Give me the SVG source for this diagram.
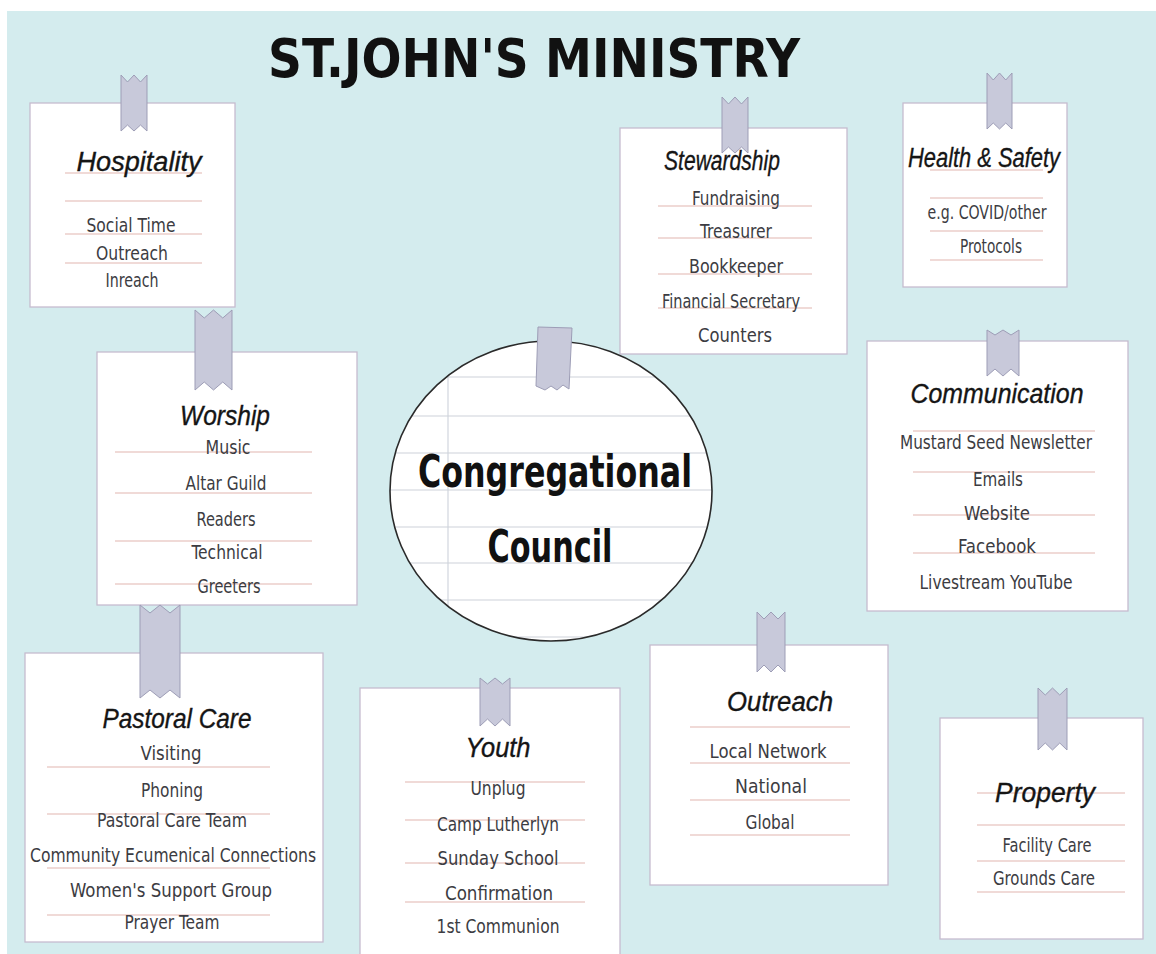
<svg xmlns="http://www.w3.org/2000/svg" width="1156" height="954" viewBox="0 0 1156 954">
<style>
.bg{fill:#d4ecee}
.card{fill:#ffffff;stroke:#c6bccf;stroke-width:1.3}
.tape{fill:#c8c9da;stroke:#9d9db6;stroke-width:1}
.rule{stroke:#e2b6b0;stroke-width:1.2}
.ttl{font-family:"Liberation Sans","Open Sans",sans-serif;font-style:italic;font-size:27px;fill:#151515;stroke:#151515;stroke-width:0.35;text-anchor:middle}
.it{font-family:"Liberation Sans Narrow","DejaVu Sans Condensed","Liberation Sans",sans-serif;font-size:20px;fill:#3c3c42;text-anchor:middle}
.head{font-family:"DejaVu Sans Condensed","Liberation Sans Narrow","DejaVu Sans",sans-serif;font-weight:bold;font-size:54px;fill:#111;text-anchor:middle}
.cc{font-family:"DejaVu Sans Condensed","Liberation Sans Narrow","DejaVu Sans",sans-serif;font-weight:bold;font-size:44px;fill:#111;text-anchor:middle}
.paper{stroke:#cdd2da;stroke-width:1.1}
</style>
<defs>
<clipPath id="circ"><ellipse cx="551" cy="491" rx="161" ry="150"/></clipPath>
</defs>
<rect x="0" y="0" width="1156" height="954" fill="#ffffff"/>
<rect class="bg" x="7" y="11" width="1149" height="943"/>
<text class="head" x="534" y="77" textLength="532" lengthAdjust="spacingAndGlyphs">ST.JOHN'S MINISTRY</text>

<g id="connectors"></g>

<g id="hospitality">
<rect class="card" x="30" y="103" width="205" height="204"/>
<path class="tape" d="M121,75 L127.5,82 L134,75 L140.5,82 L147,75 L147,131 L140.5,125 L134,131 L127.5,125 L121,131 Z"/>
<line class="rule" x1="65" y1="173" x2="202" y2="173"/>
<line class="rule" x1="65" y1="201" x2="202" y2="201"/>
<line class="rule" x1="65" y1="234" x2="202" y2="234"/>
<line class="rule" x1="65" y1="263" x2="202" y2="263"/>
<text class="ttl" x="139" y="171" textLength="125" lengthAdjust="spacingAndGlyphs">Hospitality</text>
<text class="it" x="131" y="232" textLength="89" lengthAdjust="spacingAndGlyphs">Social Time</text>
<text class="it" x="132" y="260" textLength="72" lengthAdjust="spacingAndGlyphs">Outreach</text>
<text class="it" x="132" y="287" textLength="53" lengthAdjust="spacingAndGlyphs">Inreach</text>
</g>

<g id="stewardship">
<rect class="card" x="620" y="128" width="227" height="226"/>
<path class="tape" d="M722,97 L728.5,104 L735,97 L741.5,104 L748,97 L748,153 L741.5,147 L735,153 L728.5,147 L722,153 Z"/>
<line class="rule" x1="658" y1="206" x2="812" y2="206"/>
<line class="rule" x1="658" y1="238" x2="812" y2="238"/>
<line class="rule" x1="658" y1="274" x2="812" y2="274"/>
<line class="rule" x1="658" y1="308" x2="812" y2="308"/>
<text class="ttl" x="722" y="170" textLength="116" lengthAdjust="spacingAndGlyphs">Stewardship</text>
<text class="it" x="736" y="205" textLength="88" lengthAdjust="spacingAndGlyphs">Fundraising</text>
<text class="it" x="736" y="238" textLength="72" lengthAdjust="spacingAndGlyphs">Treasurer</text>
<text class="it" x="736" y="273" textLength="94" lengthAdjust="spacingAndGlyphs">Bookkeeper</text>
<text class="it" x="731" y="308" textLength="138" lengthAdjust="spacingAndGlyphs">Financial Secretary</text>
<text class="it" x="735" y="342" textLength="74" lengthAdjust="spacingAndGlyphs">Counters</text>
</g>

<g id="health-safety">
<rect class="card" x="903" y="103" width="164" height="184"/>
<path class="tape" d="M987,73 L993.25,80 L999.5,73 L1005.75,80 L1012,73 L1012,129 L1005.75,123 L999.5,129 L993.25,123 L987,129 Z"/>
<line class="rule" x1="930" y1="170" x2="1043" y2="170"/>
<line class="rule" x1="930" y1="198" x2="1043" y2="198"/>
<line class="rule" x1="930" y1="231" x2="1043" y2="231"/>
<line class="rule" x1="930" y1="260" x2="1043" y2="260"/>
<text class="ttl" x="984" y="167" textLength="152" lengthAdjust="spacingAndGlyphs">Health &amp; Safety</text>
<text class="it" x="987" y="219" textLength="119" lengthAdjust="spacingAndGlyphs">e.g. COVID/other</text>
<text class="it" x="991" y="253" textLength="62" lengthAdjust="spacingAndGlyphs">Protocols</text>
</g>

<g id="communication">
<rect class="card" x="867" y="341" width="261" height="270"/>
<path class="tape" d="M987,330 L995,335 L1003,330 L1011,335 L1019,330 L1019,376 L1011,369 L1003,376 L995,369 L987,376 Z"/>
<line class="rule" x1="913" y1="431" x2="1095" y2="431"/>
<line class="rule" x1="913" y1="472" x2="1095" y2="472"/>
<line class="rule" x1="913" y1="515" x2="1095" y2="515"/>
<line class="rule" x1="913" y1="553" x2="1095" y2="553"/>
<text class="ttl" x="997" y="403" textLength="173" lengthAdjust="spacingAndGlyphs">Communication</text>
<text class="it" x="996" y="449" textLength="192" lengthAdjust="spacingAndGlyphs">Mustard Seed Newsletter</text>
<text class="it" x="998" y="486" textLength="50" lengthAdjust="spacingAndGlyphs">Emails</text>
<text class="it" x="997" y="520" textLength="66" lengthAdjust="spacingAndGlyphs">Website</text>
<text class="it" x="997" y="553" textLength="78" lengthAdjust="spacingAndGlyphs">Facebook</text>
<text class="it" x="996" y="589" textLength="153" lengthAdjust="spacingAndGlyphs">Livestream YouTube</text>
</g>

<g id="worship">
<rect class="card" x="97" y="352" width="260" height="253"/>
<path class="tape" d="M195,310 L204.25,318 L213.5,310 L222.75,318 L232,310 L232,390 L222.75,382 L213.5,390 L204.25,382 L195,390 Z"/>
<line class="rule" x1="115" y1="452" x2="312" y2="452"/>
<line class="rule" x1="115" y1="493" x2="312" y2="493"/>
<line class="rule" x1="115" y1="541" x2="312" y2="541"/>
<line class="rule" x1="115" y1="584" x2="312" y2="584"/>
<text class="ttl" x="225" y="425" textLength="90" lengthAdjust="spacingAndGlyphs">Worship</text>
<text class="it" x="228" y="454" textLength="45" lengthAdjust="spacingAndGlyphs">Music</text>
<text class="it" x="226" y="490" textLength="81" lengthAdjust="spacingAndGlyphs">Altar Guild</text>
<text class="it" x="226" y="526" textLength="59" lengthAdjust="spacingAndGlyphs">Readers</text>
<text class="it" x="227" y="559" textLength="71" lengthAdjust="spacingAndGlyphs">Technical</text>
<text class="it" x="229" y="593" textLength="63" lengthAdjust="spacingAndGlyphs">Greeters</text>
</g>

<g id="congregational-council">
<ellipse cx="551" cy="491" rx="161" ry="150" fill="#ffffff"/>
<g clip-path="url(#circ)">
<line class="paper" x1="380" y1="377" x2="720" y2="377"/>
<line class="paper" x1="380" y1="416" x2="720" y2="416"/>
<line class="paper" x1="380" y1="453" x2="720" y2="453"/>
<line class="paper" x1="380" y1="490" x2="720" y2="490"/>
<line class="paper" x1="380" y1="527" x2="720" y2="527"/>
<line class="paper" x1="380" y1="563" x2="720" y2="563"/>
<line class="paper" x1="380" y1="600" x2="720" y2="600"/>
<line class="paper" x1="380" y1="637" x2="720" y2="637"/>
<line class="paper" x1="448" y1="330" x2="448" y2="650"/>
</g>
<ellipse cx="551" cy="491" rx="161" ry="150" fill="none" stroke="#2a2a2a" stroke-width="1.6"/>
<path class="tape" d="M538,327 L572,328 L569,389 L563,385 L557,390 L551,386 L545,390 L536,386 Z"/>
<text class="cc" x="555" y="487" textLength="274" lengthAdjust="spacingAndGlyphs">Congregational</text>
<text class="cc" x="550" y="562" textLength="125" lengthAdjust="spacingAndGlyphs">Council</text>
</g>

<g id="pastoral-care">
<rect class="card" x="25" y="653" width="298" height="289"/>
<path class="tape" d="M140,605 L150,613 L160,605 L170,613 L180,605 L180,698 L170,690 L160,698 L150,690 L140,698 Z"/>
<line class="rule" x1="47" y1="767" x2="270" y2="767"/>
<line class="rule" x1="47" y1="814" x2="270" y2="814"/>
<line class="rule" x1="47" y1="868" x2="270" y2="868"/>
<line class="rule" x1="47" y1="915" x2="270" y2="915"/>
<text class="ttl" x="177" y="728" textLength="149" lengthAdjust="spacingAndGlyphs">Pastoral Care</text>
<text class="it" x="171" y="760" textLength="61" lengthAdjust="spacingAndGlyphs">Visiting</text>
<text class="it" x="172" y="797" textLength="62" lengthAdjust="spacingAndGlyphs">Phoning</text>
<text class="it" x="172" y="827" textLength="150" lengthAdjust="spacingAndGlyphs">Pastoral Care Team</text>
<text class="it" x="173" y="862" textLength="286" lengthAdjust="spacingAndGlyphs">Community Ecumenical Connections</text>
<text class="it" x="171" y="897" textLength="202" lengthAdjust="spacingAndGlyphs">Women's Support Group</text>
<text class="it" x="172" y="929" textLength="95" lengthAdjust="spacingAndGlyphs">Prayer Team</text>
</g>

<g id="youth">
<rect class="card" x="360" y="688" width="260" height="280"/>
<path class="tape" d="M480,678 L487.5,684 L495,678 L502.5,684 L510,678 L510,726 L502.5,719 L495,726 L487.5,719 L480,726 Z"/>
<line class="rule" x1="405" y1="782" x2="585" y2="782"/>
<line class="rule" x1="405" y1="820" x2="585" y2="820"/>
<line class="rule" x1="405" y1="863" x2="585" y2="863"/>
<line class="rule" x1="405" y1="902" x2="585" y2="902"/>
<text class="ttl" x="498" y="757" textLength="65" lengthAdjust="spacingAndGlyphs">Youth</text>
<text class="it" x="498" y="795" textLength="55" lengthAdjust="spacingAndGlyphs">Unplug</text>
<text class="it" x="498" y="831" textLength="122" lengthAdjust="spacingAndGlyphs">Camp Lutherlyn</text>
<text class="it" x="498" y="865" textLength="121" lengthAdjust="spacingAndGlyphs">Sunday School</text>
<text class="it" x="499" y="900" textLength="108" lengthAdjust="spacingAndGlyphs">Confirmation</text>
<text class="it" x="498" y="933" textLength="123" lengthAdjust="spacingAndGlyphs">1st Communion</text>
</g>

<g id="outreach">
<rect class="card" x="650" y="645" width="238" height="240"/>
<path class="tape" d="M757,612 L764,619 L771,612 L778,619 L785,612 L785,672 L778,665 L771,672 L764,665 L757,672 Z"/>
<line class="rule" x1="690" y1="727" x2="850" y2="727"/>
<line class="rule" x1="690" y1="763" x2="850" y2="763"/>
<line class="rule" x1="690" y1="800" x2="850" y2="800"/>
<line class="rule" x1="690" y1="835" x2="850" y2="835"/>
<text class="ttl" x="780" y="711" textLength="106" lengthAdjust="spacingAndGlyphs">Outreach</text>
<text class="it" x="768" y="758" textLength="117" lengthAdjust="spacingAndGlyphs">Local Network</text>
<text class="it" x="771" y="793" textLength="72" lengthAdjust="spacingAndGlyphs">National</text>
<text class="it" x="770" y="829" textLength="49" lengthAdjust="spacingAndGlyphs">Global</text>
</g>

<g id="property">
<rect class="card" x="940" y="718" width="203" height="221"/>
<path class="tape" d="M1038,688 L1045.25,695 L1052.5,688 L1059.75,695 L1067,688 L1067,750 L1059.75,743 L1052.5,750 L1045.25,743 L1038,750 Z"/>
<line class="rule" x1="977" y1="793" x2="1125" y2="793"/>
<line class="rule" x1="977" y1="825" x2="1125" y2="825"/>
<line class="rule" x1="977" y1="861" x2="1125" y2="861"/>
<line class="rule" x1="977" y1="892" x2="1125" y2="892"/>
<text class="ttl" x="1045" y="802" textLength="100" lengthAdjust="spacingAndGlyphs">Property</text>
<text class="it" x="1047" y="852" textLength="89" lengthAdjust="spacingAndGlyphs">Facility Care</text>
<text class="it" x="1044" y="885" textLength="102" lengthAdjust="spacingAndGlyphs">Grounds Care</text>
</g>
</svg>
